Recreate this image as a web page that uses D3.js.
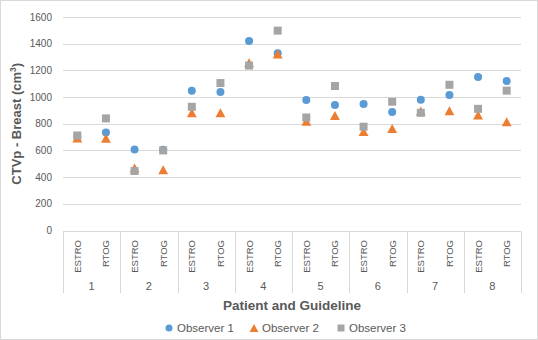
<!DOCTYPE html>
<html>
<head>
<meta charset="utf-8">
<script src="https://cdn.jsdelivr.net/npm/d3@7"></script>
<style>
  body { margin: 0; background: #fff; }
  svg { display: block; font-family: "Liberation Sans", Arial, sans-serif; }
</style>
</head>
<body>
<svg id="chart" width="538" height="340"></svg>
<script>
// data
const patients = ["1", "2", "3", "4", "5", "6", "7", "8"];
const guidelines = ["ESTRO", "RTOG"];
const seriesNames = ["Observer 1", "Observer 2", "Observer 3"];
const observer1 = [700, 735, 607, 605, 1047, 1038, 1421, 1328, 978, 940, 948, 888, 979, 1015, 1150, 1120];
const observer2 = [693, 692, 468, 456, 882, 882, 1258, 1322, 818, 862, 742, 765, 895, 898, 865, 815];
const observer3 = [712, 840, 446, 600, 927, 1105, 1236, 1498, 847, 1083, 778, 965, 882, 1092, 912, 1048];
const yTicks = [0, 200, 400, 600, 800, 1000, 1200, 1400, 1600];

const colors = ["#5B9BD5", "#ED7D31", "#A5A5A5"];
const shapes = ["circle", "triangle", "square"];

const svg = d3.select('#chart');
const W = 538, H = 340;
const margin = { left: 63, right: 17, top: 17, bottom: 110 };

// chart border
svg.append('rect')
    .attr('x', 0.5).attr('y', 0.5)
    .attr('width', W - 1).attr('height', H - 1)
    .attr('fill', '#fff').attr('stroke', '#D9D9D9');

// categories: patient x guideline
const cats = [];
patients.forEach(p => guidelines.forEach(g => cats.push({ patient: p, guide: g })));

const x = d3.scaleBand()
    .domain(d3.range(cats.length))
    .range([margin.left, W - margin.right])
    .padding(0);
const y = d3.scaleLinear()
    .domain([0, 1600])
    .range([H - margin.bottom + 0.5, margin.top]);

const cx = i => x(i) + x.bandwidth() / 2;

// gridlines
svg.append('g')
    .selectAll('line')
    .data(yTicks)
    .join('line')
    .attr('x1', margin.left).attr('x2', W - margin.right)
    .attr('y1', d => Math.round(y(d)) + 0.5).attr('y2', d => Math.round(y(d)) + 0.5)
    .attr('stroke', '#D9D9D9').attr('stroke-width', 1);

// y tick labels
svg.append('g')
    .selectAll('text')
    .data(yTicks)
    .join('text')
    .attr('x', 52)
    .attr('y', d => y(d) + 3.5)
    .attr('text-anchor', 'end')
    .attr('font-size', 10)
    .attr('fill', '#595959')
    .text(d => d);

// y axis title
const yTitle = svg.append('text')
    .attr('transform', `translate(21, ${(y(0) + y(1600)) / 2}) rotate(-90)`)
    .attr('text-anchor', 'middle')
    .attr('font-size', 13)
    .attr('font-weight', 'bold')
    .attr('fill', '#595959');
yTitle.append('tspan').text('CTVp - Breast (cm');
yTitle.append('tspan').attr('font-size', 8.5).attr('dy', -5).text('3');
yTitle.append('tspan').attr('dy', 5).text(')');

// x axis: separators between patients
const y0 = Math.round(y(0)) + 0.5;
const sepIdx = d3.range(0, cats.length + 1, 2);
svg.append('g')
    .selectAll('line')
    .data(sepIdx)
    .join('line')
    .attr('x1', d => Math.round(d < cats.length ? x(d) : x.range()[1]) + 0.5)
    .attr('x2', d => Math.round(d < cats.length ? x(d) : x.range()[1]) + 0.5)
    .attr('y1', y0).attr('y2', 293)
    .attr('stroke', '#D9D9D9');

// guideline labels (rotated)
svg.append('g')
    .selectAll('text')
    .data(cats)
    .join('text')
    .attr('transform', (d, i) => `translate(${cx(i) + 3.5}, 240) rotate(-90)`)
    .attr('text-anchor', 'end')
    .attr('font-size', 9.5)
    .attr('fill', '#595959')
    .text(d => d.guide);

// patient labels
svg.append('g')
    .selectAll('text')
    .data(patients)
    .join('text')
    .attr('x', (d, i) => (x(2 * i) + x(2 * i + 1) + x.bandwidth()) / 2)
    .attr('y', 290)
    .attr('text-anchor', 'middle')
    .attr('font-size', 11)
    .attr('fill', '#595959')
    .text(d => d);

// x axis title
svg.append('text')
    .attr('x', (margin.left + W - margin.right) / 2)
    .attr('y', 310)
    .attr('text-anchor', 'middle')
    .attr('font-size', 13.5)
    .attr('font-weight', 'bold')
    .attr('fill', '#595959')
    .text('Patient and Guideline');

// marker paths, centred on the bounding box
function marker(shape, s) {
    if (shape === 'circle') return d3.symbol(d3.symbolCircle, Math.PI * (s / 2) ** 2)();
    if (shape === 'square') return `M${-s/2},${-s/2}h${s}v${s}h${-s}Z`;
    const h = s * 1.0, w = s * 1.1;
    return `M0,${-h/2}L${w/2},${h/2}L${-w/2},${h/2}Z`;
}

const series = [observer1, observer2, observer3];
series.forEach((vals, k) => {
    svg.append('g')
        .selectAll('path')
        .data(vals)
        .join('path')
        .attr('transform', (d, i) => `translate(${cx(i)}, ${y(d)})`)
        .attr('d', marker(shapes[k], k === 1 ? 9 : 8))
        .attr('fill', colors[k]);
});

// legend
const legendItems = [
    { x: 169, name: seriesNames[0] },
    { x: 254, name: seriesNames[1] },
    { x: 341, name: seriesNames[2] }
];
const lg = svg.append('g')
    .selectAll('g')
    .data(legendItems)
    .join('g')
    .attr('transform', d => `translate(${d.x}, 328)`);
lg.append('path')
    .attr('d', (d, i) => marker(shapes[i], i === 1 ? 8 : 7))
    .attr('fill', (d, i) => colors[i]);
lg.append('text')
    .attr('x', 8)
    .attr('y', 4)
    .attr('font-size', 11.5)
    .attr('fill', '#595959')
    .text(d => d.name);
</script>
</body>
</html>
